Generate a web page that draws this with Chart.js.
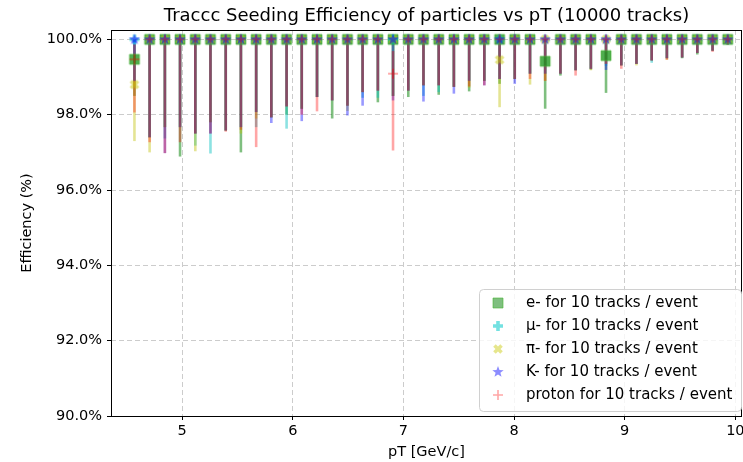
<!DOCTYPE html>
<html>
<head>
<meta charset="utf-8">
<script src="https://cdn.jsdelivr.net/npm/chart.js@4.4.0/dist/chart.umd.min.js"></script>
<style>
  html, body { margin: 0; padding: 0; background: #fff; }
  #wrap { width: 743px; height: 462px; }
</style>
</head>
<body>
<div id="wrap"><canvas id="chart"></canvas></div>
<script>
// pT bin centres (GeV/c), 40 bins between 4.5 and 10
const ptBins = [4.569, 4.706, 4.844, 4.981, 5.119, 5.256, 5.394, 5.531, 5.669, 5.806,
                5.944, 6.081, 6.219, 6.356, 6.494, 6.631, 6.769, 6.906, 7.044, 7.181,
                7.319, 7.456, 7.594, 7.731, 7.869, 8.006, 8.144, 8.281, 8.419, 8.556,
                8.694, 8.831, 8.969, 9.106, 9.244, 9.381, 9.519, 9.656, 9.794, 9.931];
const xTicks = [5, 6, 7, 8, 9, 10];
const yTicks = [90, 92, 94, 96, 98, 100];

const labels = ["e- for 10 tracks / event", "μ- for 10 tracks / event", "π- for 10 tracks / event",
                "K- for 10 tracks / event", "proton for 10 tracks / event"];

// efficiency (%)
const effE  = [99.47, 100, 100, 100, 100, 100, 100, 100, 100, 100,
               100, 100, 100, 100, 100, 100, 100, 100, 100, 100,
               100, 100, 100, 100, 100, 100, 100, 99.42, 100, 100,
               100, 99.57, 100, 100, 100, 100, 100, 100, 100, 100];
const effMu = [100, 100, 100, 100, 100, 100, 100, 100, 100, 100,
               100, 100, 100, 100, 100, 100, 100, 100, 100, 100,
               100, 100, 100, 100, 100, 100, 100, 100, 100, 100,
               100, 100, 100, 100, 100, 100, 100, 100, 100, 100];
const effPi = [98.8, 100, 100, 100, 100, 100, 100, 100, 100, 100,
               100, 100, 100, 100, 100, 100, 100, 100, 100, 100,
               100, 100, 100, 100, 99.46, 100, 100, 100, 100, 100,
               100, 100, 100, 100, 100, 100, 100, 100, 100, 100];
const effK  = [100, 100, 100, 100, 100, 100, 100, 100, 100, 100,
               100, 100, 100, 100, 100, 100, 100, 100, 100, 100,
               100, 100, 100, 100, 100, 100, 100, 100, 100, 100,
               100, 100, 100, 100, 100, 100, 100, 100, 100, 100];
const effP  = [99.47, 100, 100, 100, 100, 100, 100, 100, 100, 100,
               100, 100, 100, 100, 100, 100, 100, 99.09, 100, 100,
               100, 100, 100, 100, 100, 100, 100, 100, 100, 100,
               100, 100, 100, 100, 100, 100, 100, 100, 100, 100];

// lower errors (%)
const loE  = [0.97, 2.6, 2.33, 3.11, 2.5, 2.2, 2.42, 3.0, 1.93, 2.07,
              2.0, 1.84, 1.53, 2.1, 1.76, 1.4, 1.67, 1.5, 1.53, 1.22,
              1.47, 1.26, 1.38, 1.1, 1.18, 1.05, 0.91, 1.26, 0.96, 0.82,
              0.8, 0.99, 0.69, 0.65, 0.56, 0.5, 0.5, 0.4, 0.3, 0.13];
const loMu = [1.1, 2.6, 2.63, 2.33, 2.82, 3.03, 2.42, 2.33, 2.33, 2.07,
              2.37, 1.84, 1.53, 1.62, 1.76, 1.55, 1.55, 1.5, 1.36, 1.5,
              1.4, 1.26, 1.1, 1.1, 1.05, 1.05, 0.91, 0.91, 0.91, 0.82,
              0.78, 0.7, 0.69, 0.65, 0.62, 0.5, 0.48, 0.36, 0.3, 0.13];
const loPi = [1.5, 3.0, 2.33, 2.33, 2.97, 2.2, 2.42, 2.5, 2.1, 2.07,
              1.78, 1.84, 1.53, 1.62, 1.9, 1.4, 1.36, 1.5, 1.36, 1.22,
              1.22, 1.26, 1.28, 1.1, 1.26, 1.05, 1.2, 1.1, 0.91, 0.82,
              0.82, 0.65, 0.69, 0.69, 0.56, 0.54, 0.48, 0.36, 0.3, 0.13];
const loK  = [1.1, 2.6, 3.02, 2.33, 2.5, 2.5, 2.42, 2.33, 1.93, 2.22,
              1.78, 2.17, 1.53, 1.62, 2.02, 1.76, 1.36, 1.62, 1.36, 1.65,
              1.22, 1.44, 1.1, 1.22, 1.05, 1.18, 0.91, 0.91, 0.91, 0.82,
              0.78, 0.81, 0.69, 0.65, 0.56, 0.5, 0.48, 0.36, 0.3, 0.13];
const loP  = [1.41, 2.73, 3.02, 2.73, 2.5, 2.5, 2.45, 2.4, 2.86, 2.07,
              1.78, 2.0, 1.91, 1.62, 1.76, 1.4, 1.36, 2.04, 1.36, 1.22,
              1.22, 1.26, 1.25, 1.22, 1.05, 1.05, 1.05, 1.1, 0.91, 0.96,
              0.78, 0.65, 0.78, 0.65, 0.56, 0.54, 0.48, 0.36, 0.33, 0.13];

// upper errors (%)
const hiE  = [0.4, 0, 0, 0, 0, 0, 0, 0, 0, 0,
              0, 0, 0, 0, 0, 0, 0, 0, 0, 0,
              0, 0, 0, 0, 0, 0, 0, 0.45, 0, 0,
              0, 0.35, 0, 0, 0, 0, 0, 0, 0, 0];
const hiMu = [0, 0, 0, 0, 0, 0, 0, 0, 0, 0,
              0, 0, 0, 0, 0, 0, 0, 0, 0, 0,
              0, 0, 0, 0, 0, 0, 0, 0, 0, 0,
              0, 0, 0, 0, 0, 0, 0, 0, 0, 0];
const hiPi = [0.8, 0, 0, 0, 0, 0, 0, 0, 0, 0,
              0, 0, 0, 0, 0, 0, 0, 0, 0, 0,
              0, 0, 0, 0, 0.45, 0, 0, 0, 0, 0,
              0, 0, 0, 0, 0, 0, 0, 0, 0, 0];
const hiK  = [0, 0, 0, 0, 0, 0, 0, 0, 0, 0,
              0, 0, 0, 0, 0, 0, 0, 0, 0, 0,
              0, 0, 0, 0, 0, 0, 0, 0, 0, 0,
              0, 0, 0, 0, 0, 0, 0, 0, 0, 0];
const hiP  = [0.4, 0, 0, 0, 0, 0, 0, 0, 0, 0,
              0, 0, 0, 0, 0, 0, 0, 0.6, 0, 0,
              0, 0, 0, 0, 0, 0, 0, 0, 0, 0,
              0, 0, 0, 0, 0, 0, 0, 0, 0, 0];

// draws a matplotlib-like marker into a small canvas
function makeMarker(shape, fill, edge) {
  const s = 14;
  const c = document.createElement("canvas");
  c.width = s; c.height = s;
  const g = c.getContext("2d");
  g.translate(s / 2, s / 2);
  g.fillStyle = fill;
  g.strokeStyle = edge;
  g.lineWidth = 1;
  g.beginPath();
  if (shape === "square") {
    g.rect(-5, -5, 10, 10);
    g.fill(); g.stroke();
  } else if (shape === "plusFilled" || shape === "xFilled") {
    if (shape === "xFilled") g.rotate(Math.PI / 4);
    const a = 5, b = 1.8;
    g.moveTo(-b, -a); g.lineTo(b, -a); g.lineTo(b, -b); g.lineTo(a, -b);
    g.lineTo(a, b); g.lineTo(b, b); g.lineTo(b, a); g.lineTo(-b, a);
    g.lineTo(-b, b); g.lineTo(-a, b); g.lineTo(-a, -b); g.lineTo(-b, -b);
    g.closePath(); g.fill();
  } else if (shape === "star") {
    for (let k = 0; k < 10; k++) {
      const r = k % 2 ? 2.5 : 6;
      const ang = -Math.PI / 2 + k * Math.PI / 5;
      g.lineTo(r * Math.cos(ang), r * Math.sin(ang));
    }
    g.closePath(); g.fill();
  } else if (shape === "plus") {
    g.strokeStyle = fill;
    g.lineWidth = 1.6;
    g.moveTo(-5, 0); g.lineTo(5, 0);
    g.moveTo(0, -5); g.lineTo(0, 5);
    g.stroke();
  }
  return c;
}

const styles = [
  { shape: "square",     fill: "rgba(30,150,30,0.78)", edge: "rgba(70,180,50,0.6)", legend: "rgba(0,128,0,0.5)",    bar: "rgba(0,128,0,0.5)" },
  { shape: "plusFilled", fill: "rgba(0,200,200,0.5)",  edge: "none",                legend: "rgba(0,200,200,0.55)", bar: "rgba(0,191,191,0.45)" },
  { shape: "xFilled",    fill: "rgba(200,200,0,0.5)",  edge: "none",                legend: "rgba(200,200,0,0.45)", bar: "rgba(191,191,0,0.42)" },
  { shape: "star",       fill: "rgba(0,0,255,0.55)",   edge: "none",                legend: "rgba(0,0,255,0.45)",   bar: "rgba(0,0,255,0.4)" },
  { shape: "plus",       fill: "rgba(255,0,0,0.45)",   edge: "none",                legend: "rgba(255,0,0,0.35)",   bar: "rgba(255,0,0,0.35)" }
];

const effs = [effE, effMu, effPi, effK, effP];
const los = [loE, loMu, loPi, loK, loP];
const his = [hiE, hiMu, hiPi, hiK, hiP];

const datasets = effs.map((eff, s) => ({
  label: labels[s],
  data: ptBins.map((x, i) => ({ x: x, y: eff[i] })),
  errLo: los[s],
  errHi: his[s],
  barColor: styles[s].bar,
  pointStyle: makeMarker(styles[s].shape, styles[s].fill, styles[s].edge),
  legendStyle: makeMarker(styles[s].shape, styles[s].legend, styles[s].edge),
  showLine: false,
  order: 5 - s
}));

// all error bars sit below all markers, like matplotlib errorbar
const errorBars = {
  id: "errorBars",
  beforeDatasetsDraw(chart) {
    const xs = chart.scales.x, ys = chart.scales.y, a = chart.chartArea;
    const ctx = chart.ctx;
    ctx.save();
    ctx.beginPath();
    ctx.rect(a.left, a.top, a.right - a.left, a.bottom - a.top);
    ctx.clip();
    ctx.lineWidth = 2.6;
    chart.data.datasets.forEach(ds => {
      ctx.strokeStyle = ds.barColor;
      ds.data.forEach((p, i) => {
        const px = xs.getPixelForValue(p.x);
        ctx.beginPath();
        ctx.moveTo(px, ys.getPixelForValue(p.y + ds.errHi[i]));
        ctx.lineTo(px, ys.getPixelForValue(p.y - ds.errLo[i]));
        ctx.stroke();
      });
    });
    ctx.restore();
  }
};

const frameTitleLegend = {
  id: "frameTitleLegend",
  afterDraw(chart) {
    const ctx = chart.ctx, a = chart.chartArea;
    ctx.save();
    ctx.strokeStyle = "#000";
    ctx.lineWidth = 1;
    ctx.strokeRect(Math.round(a.left) + 0.5, Math.round(a.top) + 0.5,
                   Math.round(a.right - a.left) - 1, Math.round(a.bottom - a.top));

    ctx.fillStyle = "#000";
    ctx.font = "18px 'DejaVu Sans'";
    ctx.textAlign = "center";
    ctx.textBaseline = "middle";
    ctx.fillText("Traccc Seeding Efficiency of particles vs pT (10000 tracks)", (a.left + a.right) / 2, 16);

    // legend box in lower right
    const w = 262, h = 122;
    const x0 = a.right - w - 1, y0 = a.bottom - h - 5;
    ctx.beginPath();
    ctx.roundRect(x0 + 0.5, y0 + 0.5, w, h, 4);
    ctx.fillStyle = "rgba(255,255,255,0.8)";
    ctx.fill();
    ctx.strokeStyle = "#d0d0d0";
    ctx.stroke();
    ctx.font = "15px 'DejaVu Sans'";
    ctx.textAlign = "left";
    chart.data.datasets.forEach((ds, i) => {
      const cy = y0 + 14 + i * 23;
      const img = ds.legendStyle;
      ctx.drawImage(img, x0 + 19 - img.width / 2, cy - img.height / 2);
      ctx.fillStyle = "#000";
      ctx.fillText(ds.label, x0 + 47, cy);
    });
    ctx.restore();
  }
};

Chart.defaults.font.family = "'DejaVu Sans', sans-serif";
Chart.defaults.color = "#000";

new Chart(document.getElementById("chart"), {
  type: "scatter",
  data: { datasets: datasets },
  options: {
    animation: false,
    responsive: true,
    maintainAspectRatio: false,
    devicePixelRatio: 1,
    events: [],
    layout: { autoPadding: false, padding: { top: 30, right: 1, left: 0, bottom: 0 } },
    plugins: {
      legend: { display: false },
      tooltip: { enabled: false }
    },
    scales: {
      x: {
        type: "linear",
        min: 4.357,
        max: 10.06,
        afterBuildTicks: (s) => { s.ticks = xTicks.map(v => ({ value: v })); },
        afterFit: (s) => { s.height = 46; s.paddingLeft = 0; s.paddingRight = 0; },
        ticks: { font: { size: 14.5 }, padding: 3, color: "#000", callback: (v) => String(v) },
        grid: { color: "#cccccc", lineWidth: 1, tickColor: "#000", tickLength: 4 },
        border: { display: false, dash: [5, 3] },
        title: { display: true, text: "pT [GeV/c]", font: { size: 14.5 }, padding: { top: 0, bottom: 1 } }
      },
      y: {
        min: 90,
        max: 100.25,
        afterBuildTicks: (s) => { s.ticks = yTicks.map(v => ({ value: v })); },
        afterFit: (s) => { s.width = 111; },
        ticks: { font: { size: 14.5 }, padding: 5, color: "#000", callback: (v) => v.toFixed(1) + "%" },
        grid: { color: "#cccccc", lineWidth: 1, tickColor: "#000", tickLength: 4 },
        border: { display: false, dash: [5, 3] },
        title: { display: true, text: "Efficiency (%)", font: { size: 14.5 }, padding: { top: 19, bottom: 0 } }
      }
    }
  },
  plugins: [errorBars, frameTitleLegend]
});
</script>
</body>
</html>
